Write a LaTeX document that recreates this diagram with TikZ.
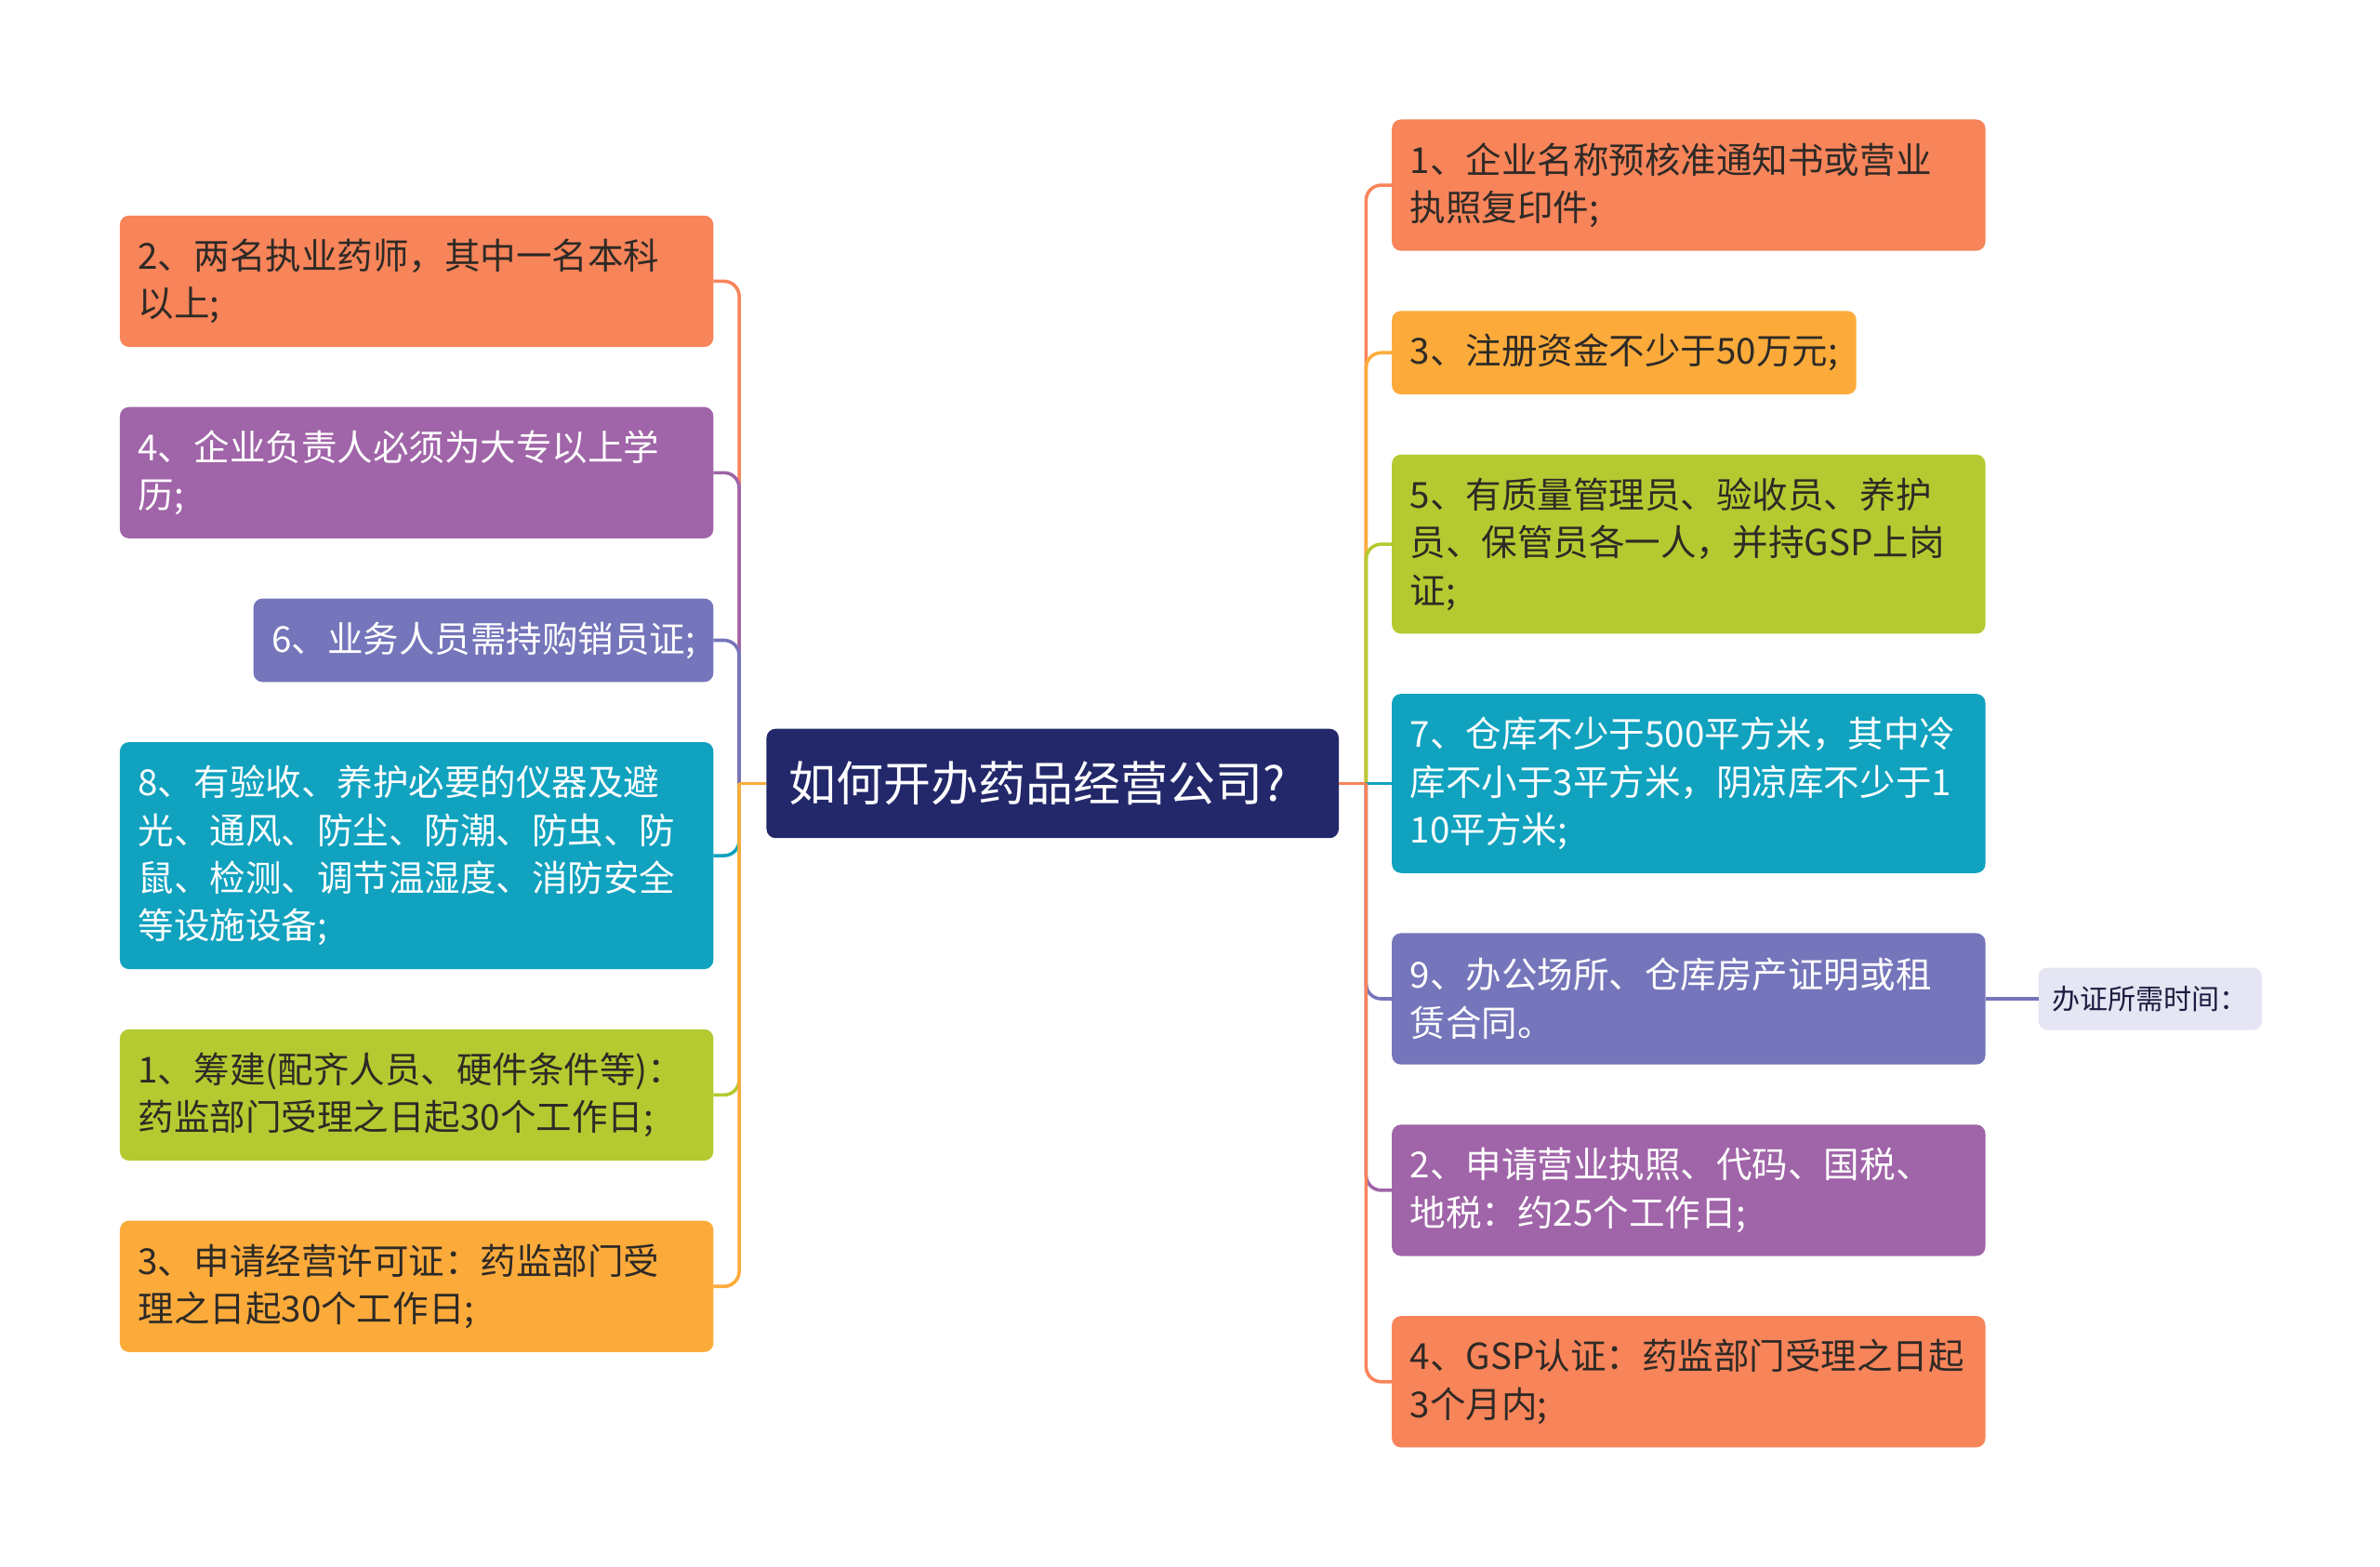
\documentclass[tikz,border=0pt]{standalone}
\usepackage{fontspec}
\setmainfont{Noto Sans CJK SC}
\usetikzlibrary{positioning}
\usetikzlibrary{calc}
\definecolor{boxOrange}{HTML}{F8845A}
\definecolor{boxYellow}{HTML}{FCAB3B}
\definecolor{boxGreen}{HTML}{B5CA30}
\definecolor{boxTeal}{HTML}{10A2BF}
\definecolor{boxIndigo}{HTML}{7575BB}
\definecolor{boxPurple}{HTML}{A064A8}
\definecolor{boxNavy}{HTML}{22286A}
\definecolor{boxPale}{HTML}{E5E5F3}
\definecolor{textDark}{HTML}{2E2A26}
\definecolor{textNavy}{HTML}{1C1C40}
\tikzset{%
	% Specifications for style of nodes:
	base/.style = {rectangle, rounded corners=3pt, inner xsep=6pt, inner ysep=2pt,
		outer sep=0pt, align=left, font=\fontsize{11.8pt}{15.75pt}\selectfont},
	nlines/.style = {minimum height=#1*15.75pt+11.75pt},
	topic/.style = {base, fill=boxNavy, text=white, text width=173.5pt,
		inner xsep=7.5pt, minimum height=36pt,
		font=\fontsize{15.6pt}{18pt}\selectfont},
	item/.style = {base, text width=183.5pt},
	darkItem/.style = {item, text=textDark},
	lightItem/.style = {item, text=white},
	note/.style = {base, fill=boxPale, text=textNavy, inner xsep=4.6pt,
		minimum height=20.5pt, font=\fontsize{9.2pt}{11pt}\selectfont},
	% Specifications for style of connectors:
	branch/.style = {line width=1.1pt, rounded corners=5pt},
}
\begin{document}
\begin{tikzpicture}[node distance=19.8pt]
\path[fill=white, use as bounding box] (-346.75pt,-258pt) rectangle (437.25pt,258pt);

\node (topic) [topic] at (0,0) {如何开办药品经营公司?};

% left column
\node (l1) [darkItem, nlines=2, fill=boxOrange, above left=187pt and 17.5pt of topic.west, anchor=north east] {2、两名执业药师，其中一名本科\\以上;};
\node (l2) [lightItem, nlines=2, fill=boxPurple, below=19.8pt of l1.south east, anchor=north east] {4、企业负责人必须为大专以上学\\历;};
\node (l3) [lightItem, nlines=1, fill=boxIndigo, text width=139.5pt, below=19.8pt of l2.south east, anchor=north east] {6、业务人员需持购销员证;};
\node (l4) [lightItem, nlines=4, fill=boxTeal, below=19.8pt of l3.south east, anchor=north east] {8、有验收、养护必要的仪器及避\\光、通风、防尘、防潮、防虫、防\\鼠、检测、调节温湿度、消防安全\\等设施设备;};
\node (l5) [darkItem, nlines=2, fill=boxGreen, below=19.8pt of l4.south east, anchor=north east] {1、筹建(配齐人员、硬件条件等)：\\药监部门受理之日起30个工作日;};
\node (l6) [darkItem, nlines=2, fill=boxYellow, below=19.8pt of l5.south east, anchor=north east] {3、申请经营许可证：药监部门受\\理之日起30个工作日;};

% right column
\node (r4) [lightItem, nlines=3, fill=boxTeal, right=17.5pt of topic] {7、仓库不少于500平方米，其中冷\\库不小于3平方米，阴凉库不少于1\\10平方米;};
\node (r3) [darkItem, nlines=3, fill=boxGreen, above=19.8pt of r4.north west, anchor=south west] {5、有质量管理员、验收员、养护\\员、保管员各一人，并持GSP上岗\\证;};
\node (r2) [darkItem, nlines=1, fill=boxYellow, text width=141pt, above=19.8pt of r3.north west, anchor=south west] {3、注册资金不少于50万元;};
\node (r1) [darkItem, nlines=2, fill=boxOrange, above=19.8pt of r2.north west, anchor=south west] {1、企业名称预核准通知书或营业\\执照复印件;};
\node (r5) [lightItem, nlines=2, fill=boxIndigo, below=19.8pt of r4.south west, anchor=north west] {9、办公场所、仓库房产证明或租\\赁合同。};
\node (r6) [lightItem, nlines=2, fill=boxPurple, below=19.8pt of r5.south west, anchor=north west] {2、申请营业执照、代码、国税、\\地税：约25个工作日;};
\node (r7) [darkItem, nlines=2, fill=boxOrange, below=19.8pt of r6.south west, anchor=north west] {4、GSP认证：药监部门受理之日起\\3个月内;};
\node (time) [note, right=17.5pt of r5] {办证所需时间：};

\path let
	\p1 = (topic.west)
in
	coordinate (lfork) at (\x1-9pt, \y1);
\path let
	\p1 = (topic.east)
in
	coordinate (rfork) at (\x1+9pt, \y1);

\draw[branch, boxOrange] (lfork) |- (l1.east);
\draw[branch, boxPurple] (lfork) |- (l2.east);
\draw[branch, boxIndigo] (lfork) |- (l3.east);
\draw[branch, boxTeal] (lfork) |- (l4.east);
\draw[branch, boxGreen] (lfork) |- (l5.east);
\draw[branch, boxYellow] (lfork) |- (l6.east);
\draw[branch, boxYellow] (topic.west) -- (lfork);

\draw[branch, boxOrange] (rfork) |- (r1.west);
\draw[branch, boxYellow] (rfork) |- (r2.west);
\draw[branch, boxGreen] (rfork) |- (r3.west);
\draw[branch, boxTeal] (rfork) -- (r4.west);
\draw[branch, boxIndigo] (rfork) |- (r5.west);
\draw[branch, boxPurple] (rfork) |- (r6.west);
\draw[branch, boxOrange] (rfork) |- (r7.west);
\draw[branch, boxOrange] (topic.east) -- (rfork);

\draw[branch, boxIndigo] (r5.east) -- (time.west);
\end{tikzpicture}
\end{document}
